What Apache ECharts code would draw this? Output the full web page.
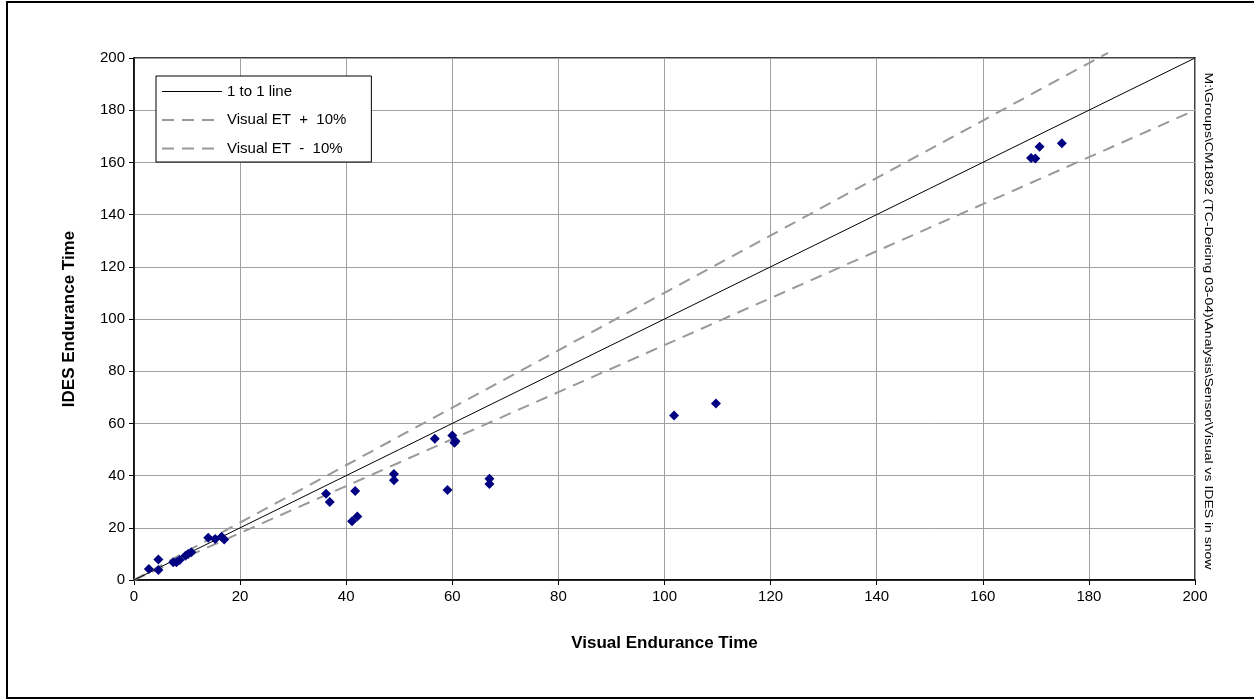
<!DOCTYPE html>
<html><head><meta charset="utf-8">
<script src="https://cdn.jsdelivr.net/npm/echarts@6/dist/echarts.min.js"></script>
<style>html,body{margin:0;padding:0;background:#fff}#c{width:1254px;height:700px}</style>
</head><body><div id="c"></div>
<script>
const visualET = [2.8, 4.6, 4.6, 7.4, 8.0, 8.6, 9.7, 10.2, 10.8, 14.0, 15.3, 16.5, 17.0,
  36.2, 36.9, 41.1, 41.7, 42.1, 49.0, 49.0, 56.7, 59.1, 60.0, 60.4, 60.6, 67.0, 67.0,
  101.8, 109.7, 169.1, 169.9, 170.7, 174.9];
const idesET = [4.2, 7.9, 3.8, 6.8, 6.8, 7.7, 9.3, 10.0, 10.6, 16.2, 15.7, 16.6, 15.5,
  33.0, 29.9, 22.5, 34.1, 24.3, 40.6, 38.2, 54.1, 34.5, 55.4, 52.6, 53.2, 38.8, 36.8,
  63.0, 67.6, 161.7, 161.5, 166.0, 167.3];
const oneToOne = [[0, 0], [200, 200]];
const plus10 = [[0, 0], [183.6, 202]];
const minus10 = [[0, 0], [200, 180]];
const legendNames = ['1 to 1 line', 'Visual ET  +  10%', 'Visual ET  -  10%'];
const xTitle = 'Visual Endurance Time';
const yTitle = 'IDES Endurance Time';
const pathNote = 'M:\\Groups\\CM1892 (TC-Deicing 03-04)\\Analysis\\Sensor\\Visual vs IDES in snow';

const font = 'Liberation Sans, Arial, sans-serif';
const chart = echarts.init(document.getElementById('c'), null, {renderer: 'canvas'});
const obs = visualET.map((v, i) => [v, idesET[i]]);
chart.setOption({
  animation: false,
  backgroundColor: '#fff',
  textStyle: {fontFamily: font},
  grid: {left: 134, right: 59, top: 58, bottom: 120, show: true, borderColor: '#000', borderWidth: 1.5, backgroundColor: 'transparent'},
  xAxis: {
    type: 'value', min: 0, max: 200, interval: 20,
    name: xTitle, nameLocation: 'middle', nameGap: 55,
    nameTextStyle: {fontSize: 17, fontWeight: 'bold', color: '#000', fontFamily: font},
    axisLine: {show: true, onZero: false, lineStyle: {color: '#000', width: 1.5}},
    axisTick: {show: true, length: 5, lineStyle: {color: '#000'}},
    axisLabel: {fontSize: 15, color: '#000', margin: 9, fontFamily: font},
    splitLine: {show: true, lineStyle: {color: '#a0a0a0', width: 1}}
  },
  yAxis: {
    type: 'value', min: 0, max: 200, interval: 20,
    name: yTitle, nameLocation: 'middle', nameGap: 56,
    nameTextStyle: {fontSize: 17, fontWeight: 'bold', color: '#000', fontFamily: font},
    axisLine: {show: true, onZero: false, lineStyle: {color: '#000', width: 1.5}},
    axisTick: {show: true, length: 5, lineStyle: {color: '#000'}},
    axisLabel: {fontSize: 15, color: '#000', margin: 9, fontFamily: font},
    splitLine: {show: true, lineStyle: {color: '#a0a0a0', width: 1}}
  },
  legend: {
    orient: 'vertical', left: 156, top: 76,
    data: [
      {name: legendNames[0], lineStyle: {width: 1, color: '#000'}},
      {name: legendNames[1]},
      {name: legendNames[2]}
    ],
    itemWidth: 60, itemHeight: 14, itemGap: 13.5, itemStyle: {opacity: 0},
    backgroundColor: '#fff', borderColor: '#000', borderWidth: 1,
    padding: [8, 25, 6, 5],
    textStyle: {fontSize: 15, color: '#000', fontFamily: font},
    selectedMode: false
  },
  graphic: [
    {type: 'rect', shape: {x: 7, y: 2, width: 1260, height: 696}, style: {fill: null, stroke: '#000', lineWidth: 2}, silent: true, z: -10},
    {type: 'text', x: 1208, y: 321, rotation: -Math.PI / 2, scaleX: 1.4,
      style: {text: pathNote, fontSize: 10, fontFamily: font, fill: '#000', align: 'center', verticalAlign: 'middle'}}
  ],
  series: [
    {name: legendNames[0], type: 'line', data: oneToOne, showSymbol: false, symbol: 'none', clip: false,
      lineStyle: {color: '#000', width: 1}, z: 3},
    {name: legendNames[1], type: 'line', data: plus10, showSymbol: false, symbol: 'none', clip: false,
      lineStyle: {color: '#999', width: 2, type: [12, 8]}, z: 2},
    {name: legendNames[2], type: 'line', data: minus10, showSymbol: false, symbol: 'none', clip: false,
      lineStyle: {color: '#999', width: 2, type: [12, 8]}, z: 2},
    {name: 'obs', type: 'scatter', data: obs, symbol: 'diamond', symbolSize: 10,
      itemStyle: {color: '#000080', opacity: 1}, z: 5}
  ]
});
</script></body></html>
